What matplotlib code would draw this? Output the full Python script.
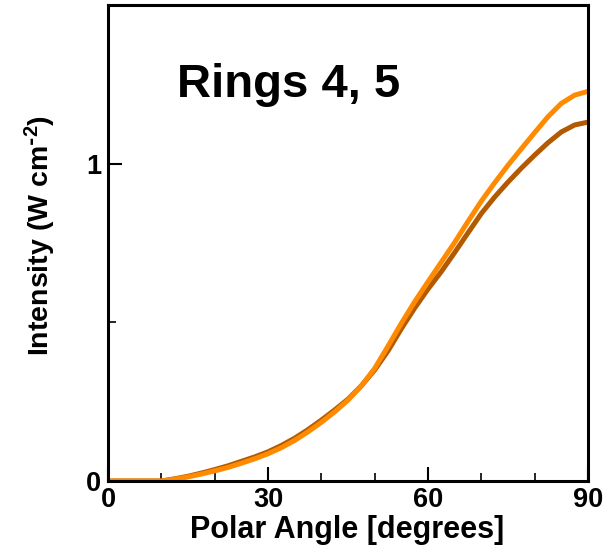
import numpy as np
import matplotlib.pyplot as plt

plt.rcParams['font.family'] = ['Liberation Sans', 'DejaVu Sans']
plt.rcParams['font.weight'] = 'bold'
plt.rcParams['mathtext.default'] = 'regular'

# polar angle samples (degrees) and intensity for the two ring groups
angle = [0, 5, 10, 12.5, 15, 17.5, 20, 22.5, 25, 27.5, 30, 32.5, 35, 37.5, 40,
         42.5, 45, 47.5, 50, 52.5, 55, 57.5, 60, 62.5, 65, 67.5, 70, 72.5, 75,
         77.5, 80, 82.5, 85, 87.5, 90]
intensity_dark = [0.0, 0.0, 0.0, 0.007, 0.015, 0.025, 0.036, 0.048, 0.062, 0.076,
                  0.092, 0.112, 0.135, 0.162, 0.192, 0.224, 0.258, 0.30, 0.35,
                  0.41, 0.48, 0.545, 0.605, 0.66, 0.72, 0.782, 0.843, 0.895,
                  0.942, 0.986, 1.027, 1.066, 1.10, 1.122, 1.131]
intensity_light = [0.0, 0.0, 0.0, 0.006, 0.013, 0.022, 0.032, 0.043, 0.056, 0.07,
                   0.086, 0.105, 0.128, 0.155, 0.185, 0.218, 0.255, 0.30, 0.355,
                   0.425, 0.497, 0.565, 0.628, 0.69, 0.752, 0.818, 0.882, 0.94,
                   0.995, 1.047, 1.098, 1.148, 1.19, 1.216, 1.228]

fig = plt.figure(figsize=(6.07, 5.45), dpi=100)
ax = fig.add_axes([0.178, 0.1174, 0.7907, 0.8734])

ax.plot(angle, intensity_dark, color='#b35a00', lw=3.6)
ax.plot(angle, intensity_light, color='#ff8a00', lw=3.6)

ax.set_xlim(0, 90)
ax.set_ylim(0, 1.5)
ax.set_xticks([0, 30, 60, 90])
ax.set_xticks([10, 20, 40, 50, 70, 80], minor=True)
ax.set_yticks([0, 1])
ax.set_yticks([0.5], minor=True)

for s in ax.spines.values():
    s.set_linewidth(2.2)
ax.tick_params(which='major', direction='in', length=10, width=1.5,
               labelsize=19.5, pad=5)
ax.tick_params(which='minor', direction='in', length=6, width=1.2)
ax.tick_params(axis='x', which='major', pad=4)

ax.set_xlabel('Polar Angle [degrees]', fontsize=22, fontweight='bold')
ax.xaxis.set_label_coords(0.499, -0.071)
ax.set_ylabel('Intensity (W cm$^{\\text{-}2}$)', fontsize=20.5,
              fontweight='bold')
ax.yaxis.set_label_coords(-0.104, 0.515)

ax.text(0.143, 0.807, 'Rings 4, 5', transform=ax.transAxes, fontsize=34,
        fontweight='bold', va='baseline')

fig.savefig('out.png', dpi=100)
